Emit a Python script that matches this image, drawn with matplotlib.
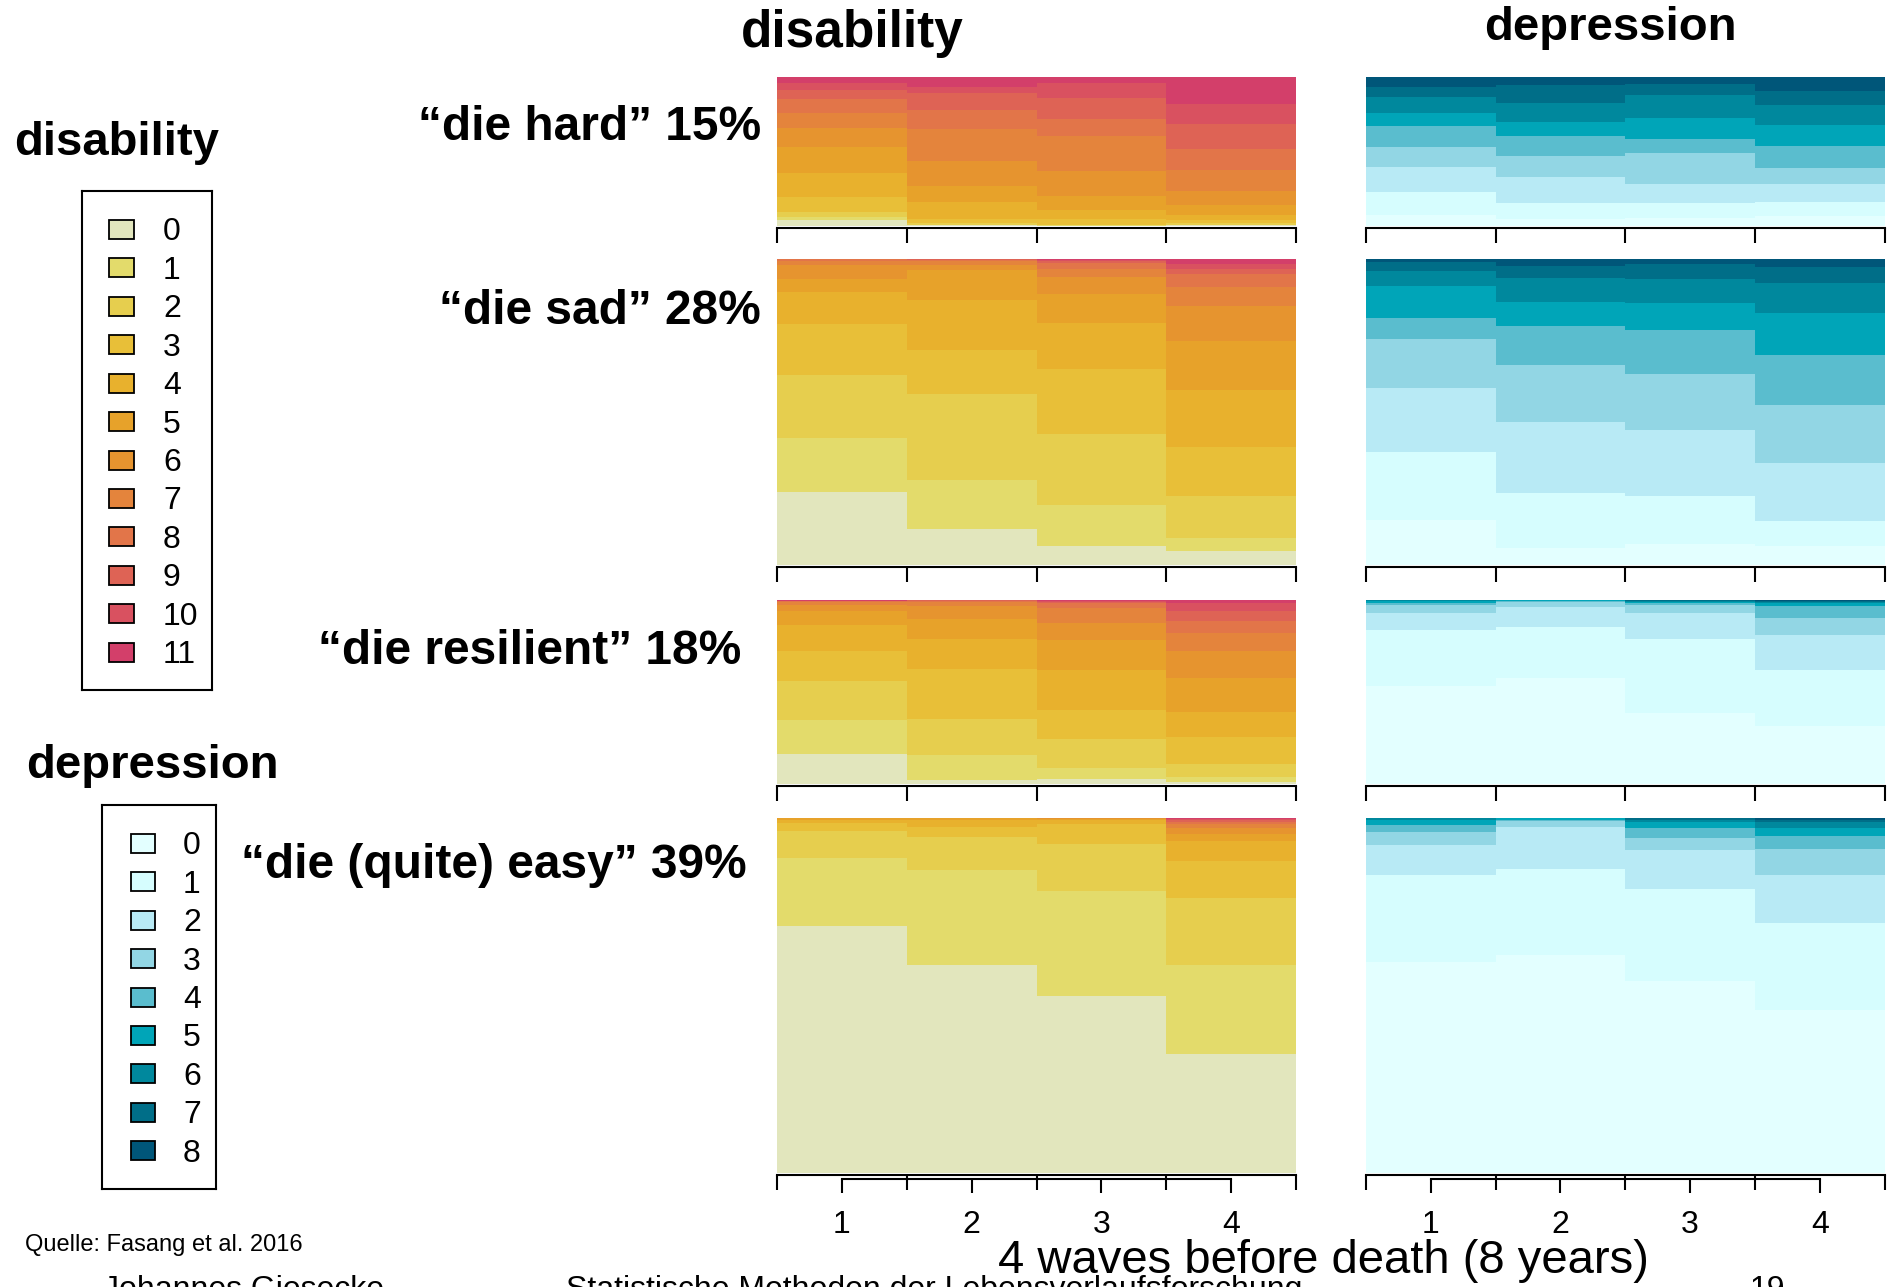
import matplotlib.pyplot as plt
import numpy as np
from matplotlib.patches import Rectangle

plt.rcParams['font.family'] = ['Liberation Sans', 'DejaVu Sans']

W, H = 1895, 1287

waves = ['1', '2', '3', '4']
dis_states = [str(i) for i in range(12)]
dep_states = [str(i) for i in range(9)]

dis_colors = ['#E2E6BD', '#E3DB6B', '#E6CE4E', '#E8BF38', '#E8B12D', '#E7A22A',
              '#E6942F', '#E4843C', '#E27549', '#DE6355', '#D95160', '#D33F6A']
dep_colors = ['#E3FFFF', '#D6FDFE', '#B8EAF5', '#92D6E4', '#5ABDCE', '#00A5B8',
              '#00889D', '#006E88', '#005679']

clusters = ['\u201cdie hard\u201d 15%', '\u201cdie sad\u201d 28%',
            '\u201cdie resilient\u201d 18%', '\u201cdie (quite) easy\u201d 39%']

# state distribution in % (one list per wave, states 0..11)
dis_hard = [[3.8, 2.2, 3.1, 10.1, 16.1, 17.4, 12.8, 10.1, 9.4, 6.0, 4.9, 4.0],
            [0.2, 0.4, 1.3, 2.5, 11.4, 10.7, 16.8, 21.5, 12.8, 11.4, 4.3, 6.7],
            [0.0, 0.2, 0.4, 3.8, 6.0, 9.4, 16.8, 23.5, 11.4, 14.1, 10.1, 4.3],
            [0.2, 0.4, 1.1, 2.0, 3.4, 6.7, 9.4, 14.1, 14.1, 16.8, 13.4, 18.3]]
dis_sad = [[23.9, 17.6, 20.6, 16.7, 10.5, 4.2, 4.6, 1.3, 0.7, 0.0, 0.0, 0.0],
           [11.8, 16.0, 28.1, 14.4, 16.3, 9.8, 1.6, 1.3, 0.3, 0.3, 0.0, 0.0],
           [6.2, 13.4, 23.3, 21.3, 14.8, 9.5, 5.6, 2.6, 2.0, 0.7, 0.3, 0.3],
           [4.6, 4.2, 13.7, 16.0, 18.6, 16.0, 11.4, 6.2, 4.2, 1.6, 1.6, 1.6]]
dis_resilient = [[16.2, 18.7, 21.1, 16.5, 14.0, 7.6, 3.4, 1.7, 0.5, 0.0, 0.0, 0.2],
                 [2.0, 13.8, 19.7, 27.3, 16.5, 10.8, 6.9, 2.0, 0.7, 0.5, 0.0, 0.0],
                 [2.7, 5.9, 15.7, 16.0, 21.6, 16.5, 9.3, 8.1, 2.5, 1.0, 0.5, 0.2],
                 [1.0, 2.9, 6.9, 14.5, 13.8, 18.7, 14.7, 9.6, 6.4, 5.4, 4.4, 1.7]]
dis_easy = [[69.7, 19.0, 7.6, 2.2, 1.1, 0.3, 0.1, 0.0, 0.0, 0.0, 0.0, 0.0],
            [58.6, 26.8, 9.3, 2.9, 2.0, 0.3, 0.1, 0.0, 0.0, 0.0, 0.0, 0.0],
            [49.9, 29.6, 13.2, 5.7, 1.1, 0.3, 0.1, 0.1, 0.0, 0.0, 0.0, 0.0],
            [33.6, 25.3, 18.7, 10.7, 5.6, 1.9, 1.8, 0.9, 0.8, 0.4, 0.3, 0.3]]

# states 0..8
dep_hard = [[7.2, 15.4, 16.1, 13.4, 14.1, 8.7, 10.7, 6.5, 6.7],
            [4.5, 10.7, 17.4, 14.1, 13.4, 9.4, 12.8, 12.1, 5.6],
            [5.1, 10.1, 12.8, 20.8, 9.4, 14.1, 15.4, 7.4, 4.9],
            [6.5, 9.4, 12.1, 10.7, 14.8, 14.1, 13.4, 9.4, 9.6]]
dep_sad = [[14.8, 22.3, 20.7, 16.1, 6.9, 10.5, 4.9, 3.0, 1.0],
           [5.6, 18.0, 23.3, 18.4, 12.8, 7.9, 7.9, 3.9, 2.3],
           [6.9, 15.7, 21.6, 18.0, 14.4, 8.9, 7.9, 4.9, 1.6],
           [6.2, 8.2, 19.0, 18.7, 16.4, 13.8, 9.8, 5.2, 2.6]]
dep_resilient = [[53.2, 30.9, 9.1, 4.2, 1.2, 1.0, 0.5, 0.0, 0.0],
                 [57.6, 27.7, 11.3, 2.5, 0.5, 0.5, 0.0, 0.0, 0.0],
                 [38.5, 40.2, 14.2, 4.4, 1.5, 0.5, 0.5, 0.2, 0.0],
                 [31.4, 30.4, 19.1, 9.3, 6.6, 1.5, 1.0, 0.5, 0.2]]
dep_easy = [[59.5, 24.5, 8.4, 3.7, 2.0, 1.5, 0.4, 0.0, 0.0],
            [61.4, 24.2, 11.8, 1.8, 0.4, 0.4, 0.0, 0.0, 0.0],
            [54.2, 25.9, 10.9, 3.4, 2.8, 1.6, 0.8, 0.4, 0.0],
            [46.1, 24.4, 13.6, 7.2, 3.7, 2.3, 1.8, 0.6, 0.4]]

dis_data = [dis_hard, dis_sad, dis_resilient, dis_easy]
dep_data = [dep_hard, dep_sad, dep_resilient, dep_easy]

# layout in pixels (top-left origin)
row_top = [76.7, 259.0, 600.3, 818.1]
row_bot = [225.7, 565.0, 783.8, 1173.3]
dis_x = (777, 1296)
dep_x = (1366, 1884.5)
label_xy = [(761, 128), (761, 312), (741, 651), (747, 866)]

fig = plt.figure(figsize=(W / 100, H / 100), dpi=100)


def px_rect(x0, y0, x1, y1):
    return [x0 / W, 1 - y1 / H, (x1 - x0) / W, (y1 - y0) / H]


def ftext(x, y, s, **kw):
    fig.text(x / W, 1 - y / H, s, **kw)


def seq_panel(x0, x1, y0, y1, shares, colors, last):
    ax = fig.add_axes(px_rect(x0, y0, x1, y1))
    shares = np.array(shares, float)
    shares = shares / shares.sum(axis=1, keepdims=True)
    pos = np.arange(len(waves))
    bottom = np.zeros(len(waves))
    for s in range(shares.shape[1]):
        ax.bar(pos, shares[:, s], width=1, bottom=bottom, align='edge',
               color=colors[s], linewidth=0, antialiased=False)
        bottom += shares[:, s]
    ax.set_xlim(0, len(waves))
    ax.set_ylim(0, 1)
    for sp in ['top', 'left', 'right']:
        ax.spines[sp].set_visible(False)
    ax.spines['bottom'].set_position(('outward', 1.5))
    ax.spines['bottom'].set_linewidth(1.5)
    ax.set_xticks(np.arange(len(waves) + 1))
    ax.set_xticklabels([])
    ax.tick_params(axis='x', length=11, width=1.5, direction='out')
    ax.set_yticks([])
    ax.patch.set_visible(False)

    if last:
        # wave axis under the last row
        ax2 = fig.add_axes(px_rect(x0, y0, x1, y1))
        ax2.set_xlim(0, len(waves))
        ax2.set_ylim(0, 1)
        ax2.patch.set_visible(False)
        for sp in ['top', 'left', 'right']:
            ax2.spines[sp].set_visible(False)
        ax2.spines['bottom'].set_position(('outward', 4.3))
        ax2.spines['bottom'].set_linewidth(1.5)
        ax2.spines['bottom'].set_bounds(0.5, len(waves) - 0.5)
        ax2.set_xticks(pos + 0.5)
        ax2.set_xticklabels(waves)
        ax2.tick_params(axis='x', length=10, width=1.5, direction='out',
                        labelsize=23, pad=12)
        ax2.set_yticks([])


for r in range(4):
    last = r == 3
    seq_panel(dis_x[0], dis_x[1], row_top[r], row_bot[r], dis_data[r], dis_colors, last)
    seq_panel(dep_x[0], dep_x[1], row_top[r], row_bot[r], dep_data[r], dep_colors, last)
    lx, ly = label_xy[r]
    ftext(lx, ly, clusters[r], ha='right', va='center', fontsize=34.5, fontweight='bold')

# column titles
ftext(852, 34, 'disability', ha='center', va='center', fontsize=37, fontweight='bold')
ftext(1610, 28, 'depression', ha='center', va='center', fontsize=34, fontweight='bold')


def legend_box(x0, y0, x1, y1, title, tx, ty, states, colors, sw_x, first_y, step, lab_x):
    ftext(tx, ty, title, ha='left', va='center', fontsize=34, fontweight='bold')
    lg = fig.add_axes(px_rect(x0, y0, x1, y1))
    lg.set_xlim(x0, x1)
    lg.set_ylim(y1, y0)
    lg.set_xticks([])
    lg.set_yticks([])
    for sp in lg.spines.values():
        sp.set_linewidth(1.5)
    for i, (st, c) in enumerate(zip(states, colors)):
        yc = first_y + step * i
        lg.add_patch(Rectangle((sw_x[0], yc - 9.5), sw_x[1] - sw_x[0], 19,
                               facecolor=c, edgecolor='black', linewidth=1.3))
        lg.text(lab_x, yc + 3, st, ha='left', va='center', fontsize=23)


legend_box(81.7, 190.7, 212, 690, 'disability', 14, 143, dis_states, dis_colors,
           (109, 134), 229.4, 38.44, 163)
legend_box(102, 805, 216, 1189, 'depression', 26, 766, dep_states, dep_colors,
           (130.7, 155), 843.4, 38.4, 183)

ftext(25, 1245, 'Quelle: Fasang et al. 2016', ha='left', va='center', fontsize=17)
ftext(1323, 1261, '4 waves before death (8 years)', ha='center', va='center', fontsize=34)

# slide footer, cut by the lower edge
ftext(103, 1298, 'Johannes Giesecke', ha='left', va='baseline', fontsize=23)
ftext(566, 1298, 'Statistische Methoden der Lebensverlaufsforschung', ha='left',
      va='baseline', fontsize=23)
ftext(1750, 1298, '19', ha='left', va='baseline', fontsize=23)

fig.savefig('out.png', dpi=100)
